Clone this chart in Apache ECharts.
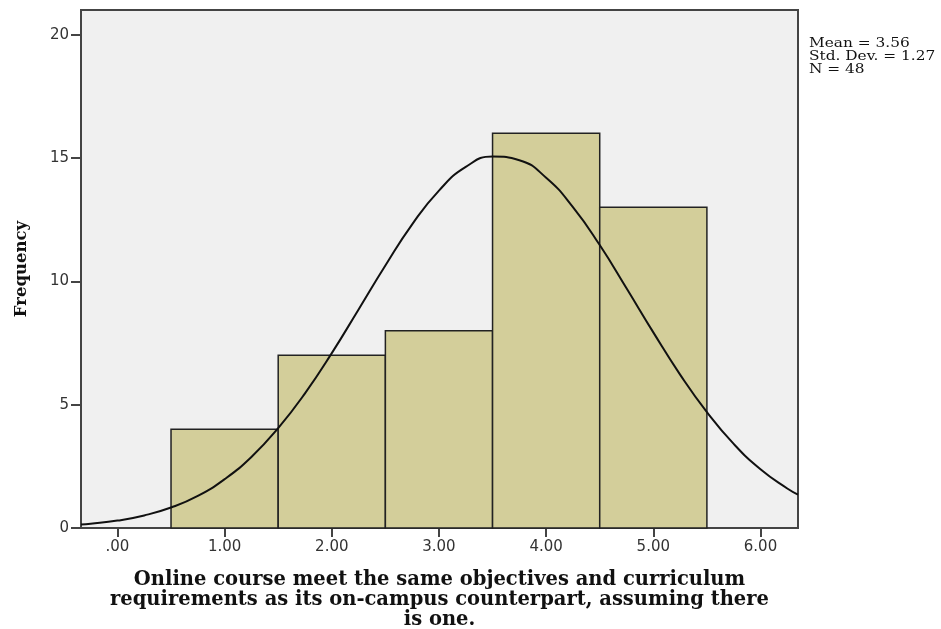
<!DOCTYPE html>
<html>
<head>
<meta charset="utf-8">
<script src="https://cdn.jsdelivr.net/npm/echarts@6/dist/echarts.min.js"></script>
<style>
html,body{margin:0;padding:0;background:#fff;}
#chart{width:941px;height:629px;}
</style>
</head>
<body>
<div id="chart"></div>
<script>
// Histogram bins (lower edge, upper edge) and frequencies
const binStarts = [0.5, 1.5, 2.5, 3.5, 4.5];
const binEnds   = [1.5, 2.5, 3.5, 4.5, 5.5];
const frequencies = [4, 7, 8, 16, 13];

// Normal curve (x, frequency)
const curveX = [-0.34, -0.25, 0, 0.25, 0.5, 0.75, 1, 1.25, 1.5, 1.75, 2, 2.25, 2.5, 2.75, 3, 3.25, 3.5, 3.75, 4, 4.25, 4.5, 4.75, 5, 5.25, 5.5, 5.75, 6, 6.25, 6.35];
const curveY = [0.14, 0.17, 0.30, 0.51, 0.83, 1.30, 1.98, 2.88, 4.05, 5.46, 7.09, 8.86, 10.64, 12.31, 13.68, 14.64, 15.06, 14.91, 14.20, 13.01, 11.47, 9.72, 7.93, 6.22, 4.70, 3.41, 2.38, 1.60, 1.35];

// Axis ticks
const xTickValues = [0, 1, 2, 3, 4, 5, 6];
const xTickLabels = ['.00', '1.00', '2.00', '3.00', '4.00', '5.00', '6.00'];
const yTickValues = [0, 5, 10, 15, 20];

const statsLines = ['Mean = 3.56', 'Std. Dev. = 1.27', 'N = 48'];
const xAxisTitle = 'Online course meet the same objectives and curriculum\nrequirements as its on-campus counterpart, assuming there\nis one.';
const yAxisTitle = 'Frequency';

const barData = binStarts.map((s, i) => [s, binEnds[i], frequencies[i]]);
const curveData = curveX.map((x, i) => [x, curveY[i]]);

const chart = echarts.init(document.getElementById('chart'), null, {renderer: 'canvas'});
chart.setOption({
  animation: false,
  backgroundColor: '#ffffff',
  grid: {
    left: 81, right: 143, top: 10, bottom: 101,
    containLabel: false, outerBoundsMode: 'none',
    show: true, backgroundColor: '#f0f0f0', borderColor: '#444', borderWidth: 2
  },
  xAxis: {
    type: 'value', min: -0.34, max: 6.35,
    axisLine: {show: true, onZero: false, lineStyle: {color: '#444', width: 2}},
    axisTick: {show: true, length: 9, lineStyle: {color: '#444', width: 2}, customValues: xTickValues},
    axisLabel: {
      customValues: xTickValues,
      formatter: v => xTickLabels[xTickValues.indexOf(Math.round(v))] || '',
      color: '#333', fontFamily: 'DejaVu Sans', fontSize: 15, margin: 12
    },
    splitLine: {show: false},
    name: xAxisTitle, nameLocation: 'middle', nameGap: 42,
    nameTextStyle: {fontFamily: 'DejaVu Serif', fontWeight: 'bold', fontSize: 19.5, color: '#111', lineHeight: 20}
  },
  yAxis: {
    type: 'value', min: 0, max: 21,
    axisLine: {show: true, onZero: false, lineStyle: {color: '#444', width: 2}},
    axisTick: {show: true, length: 10, lineStyle: {color: '#444', width: 2}, customValues: yTickValues},
    axisLabel: {customValues: yTickValues, color: '#333', fontFamily: 'DejaVu Sans', fontSize: 15, margin: 12},
    splitLine: {show: false},
    name: yAxisTitle, nameLocation: 'middle', nameGap: 51, nameRotate: 90,
    nameTextStyle: {fontFamily: 'DejaVu Serif', fontWeight: 'bold', fontSize: 16.5, color: '#111'}
  },
  series: [
    {
      type: 'custom',
      data: barData,
      encode: {x: [0, 1], y: 2},
      renderItem: function (params, api) {
        const p0 = api.coord([api.value(0), 0]);
        const p1 = api.coord([api.value(1), api.value(2)]);
        return {
          type: 'rect',
          shape: {x: p0[0], y: p1[1], width: p1[0] - p0[0], height: p0[1] - p1[1]},
          style: {fill: '#d3ce9a', stroke: '#222', lineWidth: 1.5}
        };
      },
      z: 2
    },
    {
      type: 'line',
      data: curveData,
      smooth: 0.5,
      smoothMonotone: 'none',
      showSymbol: false,
      symbol: 'none',
      lineStyle: {color: '#111', width: 2},
      clip: true,
      z: 3
    }
  ],
  graphic: [
    {
      type: 'text', left: 809, top: 37, scaleX: 1.28, originX: 0,
      style: {text: statsLines.join('\n'), font: '12px "DejaVu Serif"', lineHeight: 13, fill: '#111'}
    }
  ]
});
</script>
</body>
</html>
